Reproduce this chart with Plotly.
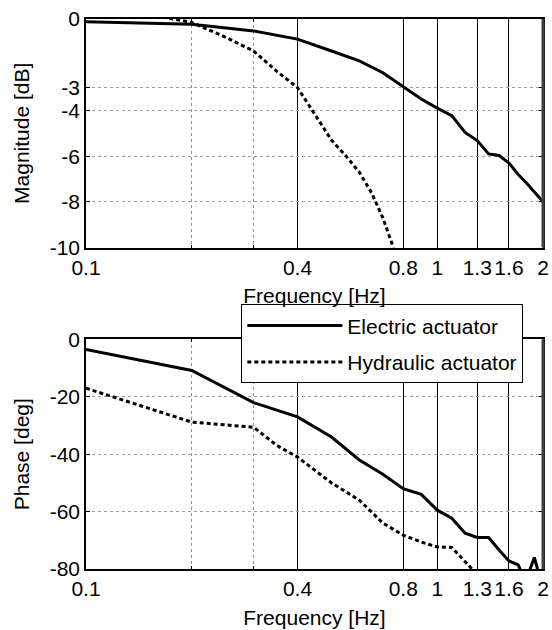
import plotly.graph_objects as go
from plotly.subplots import make_subplots

# Frequency points [Hz]
freq_e = [0.1, 0.2, 0.3, 0.4, 0.5, 0.6, 0.7, 0.8, 0.9, 1.0, 1.1, 1.2, 1.3, 1.4, 1.5, 1.6, 1.7, 1.8, 1.9, 2.0]
mag_e = [-0.12, -0.23, -0.52, -0.88, -1.4, -1.83, -2.35, -2.97, -3.5, -3.9, -4.23, -4.96, -5.32, -5.9, -5.97, -6.3, -6.8, -7.2, -7.6, -8.0]

freq_h_mag = [0.1, 0.15, 0.2, 0.25, 0.3, 0.35, 0.4, 0.45, 0.5, 0.55, 0.6, 0.65, 0.7, 0.75, 0.8]
mag_h = [0.5, 0.2, -0.15, -0.8, -1.4, -2.3, -3.0, -4.2, -5.3, -6.0, -6.7, -7.6, -8.7, -10.0, -11.0]

freq_e_ph = [0.1, 0.2, 0.3, 0.4, 0.5, 0.6, 0.7, 0.8, 0.9, 1.0, 1.1, 1.2, 1.3, 1.4, 1.5, 1.6, 1.7, 1.75, 1.8, 1.89, 1.97, 2.0]
phase_e = [-3.5, -10.8, -22, -27, -34, -42, -47, -52, -54, -59.5, -62.3, -67.5, -69, -69, -73.4, -77.2, -78.6, -82, -83, -76, -84, -85]

freq_h_ph = [0.1, 0.2, 0.3, 0.35, 0.4, 0.5, 0.6, 0.7, 0.8, 0.9, 1.0, 1.1, 1.15, 1.25, 1.3]
phase_h = [-17, -28.8, -30.6, -37, -41, -50, -56, -64, -68.2, -70.6, -72.3, -72.5, -75, -80, -82]

x_ticks = [0.1, 0.4, 0.8, 1, 1.3, 1.6, 2]
x_tick_text = ["0.1", "0.4", "0.8", "1", "1.3", "1.6", "2"]
x_minor = [0.2, 0.3]
mag_ticks = [0, -3, -4, -6, -8, -10]
mag_tick_text = ["0", "-3", "-4", "-6", "-8", "-10"]
phase_ticks = [0, -20, -40, -60, -80]
phase_tick_text = ["0", "-20", "-40", "-60", "-80"]

FONT = "Liberation Sans, Arial, sans-serif"
FS = 21
DOTS = "4px,3px"

fig = make_subplots(rows=2, cols=1, vertical_spacing=0.0)

fig.add_trace(go.Scatter(x=freq_e, y=mag_e, mode="lines", name="Electric actuator", legendgroup="e",
                         line=dict(color="black", width=3), showlegend=True), row=1, col=1)
fig.add_trace(go.Scatter(x=freq_h_mag, y=mag_h, mode="lines", name="Hydraulic actuator", legendgroup="h",
                         line=dict(color="black", width=3, dash=DOTS), showlegend=True), row=1, col=1)
fig.add_trace(go.Scatter(x=freq_e_ph, y=phase_e, mode="lines", name="Electric actuator", legendgroup="e",
                         line=dict(color="black", width=3), showlegend=False), row=2, col=1)
fig.add_trace(go.Scatter(x=freq_h_ph, y=phase_h, mode="lines", name="Hydraulic actuator", legendgroup="h",
                         line=dict(color="black", width=3, dash=DOTS), showlegend=False), row=2, col=1)

xaxis_common = dict(
    type="log", range=[-1, 0.30103], tickvals=x_ticks, ticktext=x_tick_text,
    showgrid=True, gridcolor="black", gridwidth=1.3,
    showline=True, linecolor="black", linewidth=1.5, mirror="ticks",
    ticks="inside", ticklen=4, tickcolor="black",
    minor=dict(tickvals=x_minor, showgrid=True, gridcolor="#909090", griddash="dot", gridwidth=1,
               ticks="inside", ticklen=3, tickcolor="black"),
    title=dict(text="Frequency [Hz]", font=dict(size=FS, family=FONT, color="black"), standoff=11),
    automargin=False,
    tickfont=dict(size=FS, family=FONT, color="black"),
    zeroline=False,
)
fig.update_xaxes(**xaxis_common)
fig.update_xaxes(domain=[0, 1])

yaxis_common = dict(
    showgrid=True, gridcolor="#a0a0a0", griddash="dot", gridwidth=1,
    showline=True, linecolor="black", linewidth=1.5, mirror="ticks",
    ticks="inside", ticklen=4, tickcolor="black",
    tickfont=dict(size=FS, family=FONT, color="black"),
    zeroline=False,
)
fig.update_yaxes(**yaxis_common)
fig.update_yaxes(row=1, col=1, range=[-10, 0], tickvals=mag_ticks, ticktext=mag_tick_text, domain=[0.5844, 1.0],
                 title=dict(text="Magnitude [dB]", font=dict(size=FS, family=FONT, color="black"), standoff=14))
fig.update_yaxes(row=2, col=1, range=[-80, 0], tickvals=phase_ticks, ticktext=phase_tick_text, domain=[0.0, 0.4174],
                 title=dict(text="Phase [deg]", font=dict(size=FS, family=FONT, color="black"), standoff=14))

# thick right border
for yref in ["y domain", "y2 domain"]:
    fig.add_shape(type="line", xref="paper", yref=yref, x0=1, x1=1, y0=0, y1=1,
                  line=dict(color="#404040", width=3))

fig.update_layout(
    width=552, height=630,
    margin=dict(l=86, r=7, t=18, b=61),
    paper_bgcolor="white", plot_bgcolor="white",
    font=dict(family=FONT, size=FS, color="black"),
    legend=dict(x=0.3399, y=0.481, xanchor="left", yanchor="top",
                bgcolor="white", bordercolor="black", borderwidth=1,
                font=dict(size=FS, family=FONT, color="black"),
                itemwidth=95, tracegroupgap=6),
    showlegend=True,
)

fig.write_html("out.html", config={"displayModeBar": False},
               post_script="document.body.style.margin='0';document.body.style.overflow='hidden';")
